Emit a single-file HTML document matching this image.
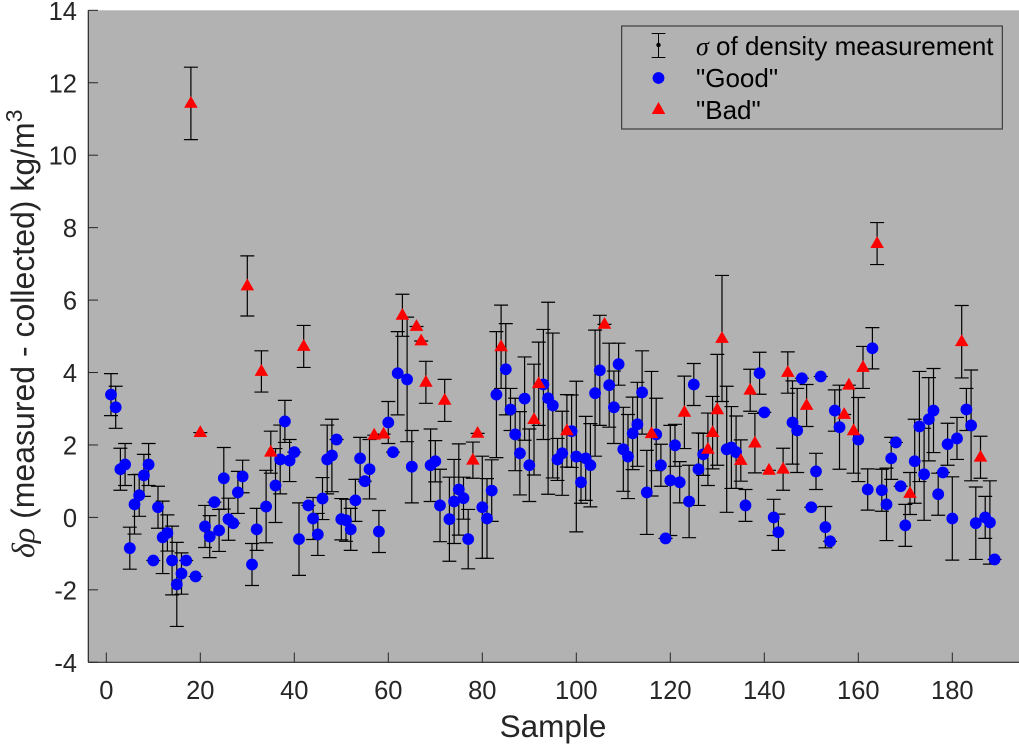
<!DOCTYPE html>
<html lang="en">
<head>
<meta charset="utf-8">
<title>Density difference by sample</title>
<style>
html,body{margin:0;padding:0;background:#fff;}
svg{display:block;font-family:"Liberation Sans",sans-serif;}
</style>
</head>
<body>
<svg id="chart" xmlns="http://www.w3.org/2000/svg" width="1019" height="746" viewBox="0 0 1019 746">
  <rect x="88.3" y="10.3" width="930.7" height="652" fill="#b2b2b2"/>
  <g id="errorbars"></g>
  <g id="good-points"></g>
  <g id="bad-points"></g>
  <g id="axes">
    <line x1="88.3" y1="10.3" x2="88.3" y2="662.3" stroke="#262626" stroke-width="1.2"/>
    <line x1="88.3" y1="662.3" x2="1019" y2="662.3" stroke="#262626" stroke-width="1.2"/>
  </g>
  <text x="553" y="737" text-anchor="middle" font-size="31.5" fill="#262626">Sample</text>
  <text transform="translate(34,558) rotate(-90)" font-size="32" fill="#262626"><tspan font-family="'Liberation Serif',serif" font-style="italic">δρ</tspan> (measured - collected) kg/m<tspan font-size="23" dy="-12">3</tspan></text>
  <g>
    <rect x="621.7" y="26" width="380.6" height="103" fill="#b2b2b2" stroke="#262626" stroke-width="1"/>
    <g>
      <line x1="658.5" y1="33.5" x2="658.5" y2="57.5" stroke="#000" stroke-width="1"/>
      <line x1="651.7" y1="33.5" x2="665.3" y2="33.5" stroke="#000" stroke-width="1"/>
      <line x1="651.7" y1="57.5" x2="665.3" y2="57.5" stroke="#000" stroke-width="1"/>
      <circle cx="658.5" cy="45" r="2.2" fill="#000"/>
      <text x="696" y="55" font-size="26" fill="#000"><tspan font-family="'Liberation Serif',serif" font-style="italic">σ</tspan> of density measurement</text>
    </g>
    <g>
      <circle cx="658.5" cy="78" r="5.9" fill="#0000ff"/>
      <text x="696" y="87" font-size="26" fill="#000">"Good"</text>
    </g>
    <g>
      <polygon points="658.5,102 651.7,114 665.3,114" fill="#ff0000"/>
      <text x="696" y="119" font-size="26" fill="#000">"Bad"</text>
    </g>
  </g>
</svg>
<script>
const xTickValues = [0, 20, 40, 60, 80, 100, 120, 140, 160, 180];
const yTickValues = [-4, -2, 0, 2, 4, 6, 8, 10, 12, 14];

// Density difference for samples 1..189, in order
const densityDelta = [
  3.39, 3.04, 1.33, 1.46, -0.85, 0.36, 0.61, 1.16, 1.46, -1.19,
  0.28, -0.55, -0.43, -1.19, -1.85, -1.55, -1.19, 11.43, -1.63, 2.34,
  -0.25, -0.53, 0.42, -0.36, 1.08, -0.05, -0.16, 0.69, 1.13, 6.39,
  -1.30, -0.33, 4.03, 0.30, 1.80, 0.88, 1.60, 2.65, 1.57, 1.80,
  -0.60, 4.72, 0.33, -0.03, -0.47, 0.52, 1.60, 1.71, 2.15, -0.05,
  -0.08, -0.33, 0.47, 1.63, 1.00, 1.33, 2.27, -0.39, 2.30, 2.62,
  1.80, 3.98, 5.58, 3.81, 1.40, 5.27, 4.87, 3.73, 1.44, 1.55,
  0.33, 3.23, -0.05, 0.44, 0.77, 0.53, -0.60, 1.58, 2.32, 0.28,
  -0.03, 0.74, 3.39, 4.71, 4.09, 2.98, 2.29, 1.77, 3.28, 1.44,
  2.70, 3.69, 3.67, 3.29, 3.09, 1.60, 1.77, 2.39, 2.38, 1.68,
  0.97, 1.63, 1.44, 3.43, 4.06, 5.33, 3.65, 3.04, 4.23, 1.88,
  1.68, 2.32, 2.57, 3.45, 0.69, 2.31, 2.29, 1.44, -0.58, 1.02,
  1.99, 0.97, 2.90, 0.44, 3.67, 1.33, 1.74, 1.88, 2.34, 2.97,
  4.94, 1.88, 1.93, 1.80, 1.57, 0.33, 3.51, 2.05, 3.98, 2.90,
  1.30, 0.00, -0.41, 1.33, 4.00, 2.62, 2.40, 3.84, 3.09, 0.28,
  1.27, 3.89, -0.27, -0.66, 2.95, 2.49, 2.84, 3.65, 2.39, 2.15,
  4.14, 0.77, 4.67, 7.56, 0.75, 0.36, 1.63, 2.07, 0.86, -0.22,
  0.66, 1.55, 2.51, 1.19, 2.71, 2.95, 0.64, 1.24, 2.02, -0.03,
  2.18, 4.85, 2.98, 2.54, -0.16, 1.66, 0.00, -0.14, -1.16
];

// Half-height of the error bar for samples 1..189, in order
const densitySigma = [
  0.58, 0.58, 0.58, 0.58, 0.58, 0.82, 0.58, 0.58, 0.58, 0,
  0.58, 1.00, 0.50, 0.95, 1.16, 0.57, 0, 1.00, 0, 0,
  0.58, 0.58, 0, 0.58, 0.85, 0.58, 0, 0.58, 0.45, 0.83,
  0.58, 0.58, 0.57, 1.00, 0.58, 1.02, 0.95, 0.58, 0.58, 0,
  1.00, 0.58, 0, 0.58, 0.58, 0.58, 0.95, 1.00, 0, 0.57,
  0.58, 0.58, 0.58, 0.58, 0, 0.82, 0, 0.58, 0, 0.58,
  0, 1.15, 0.58, 1.72, 1.00, 0, 0, 0.58, 1.00, 0.57,
  1.00, 0.58, 1.16, 1.16, 1.26, 0.58, 0.82, 0.50, 0, 1.41,
  1.10, 0.85, 1.74, 1.15, 1.26, 0.58, 1.00, 1.15, 1.15, 1.00,
  1.53, 1.15, 1.52, 2.65, 2.00, 0.58, 1.16, 1.00, 1.00, 2.08,
  0.58, 1.16, 1.15, 1.74, 1.52, 0, 1.16, 1.00, 0.58, 1.16,
  1.16, 1.00, 1.16, 1.15, 1.16, 1.72, 1.00, 0.58, 0, 1.52,
  0.58, 0.57, 1.00, 1.00, 0.58, 1.00, 0.58, 1.00, 1.00, 1.53,
  1.74, 1.74, 1.13, 1.00, 0.57, 0.44, 0.58, 0.82, 0.58, 0,
  0, 0.50, 0.50, 0.58, 0.57, 1.15, 1.16, 0, 0.58, 0,
  0.50, 0, 0.57, 0, 0.57, 1.16, 0, 0, 1.17, 1.16,
  0.58, 0.57, 0.57, 0.58, 0.58, 1.00, 0.58, 0, 0, 0.58,
  0.58, 1.16, 1.52, 1.27, 1.15, 1.16, 0.58, 0, 0.58, 1.15,
  0.58, 1.00, 0.58, 1.53, 1.00, 0.58, 0.58, 1.15, 0
];

// Sample numbers classified "Bad"; every other sample is "Good"
const badSamples = [
  18, 20, 30, 33, 35, 42, 57, 59, 63, 66, 67, 68, 72, 78, 79, 84, 91, 92, 98,
  106, 116, 123, 128, 129, 130, 131, 135, 137, 138, 141, 144, 145, 149, 157,
  158, 159, 161, 164, 171, 182, 186
];

const xScale = v => 106.3 + 4.7 * v;
const yScale = v => 517.4 - 36.22 * v;
const NS = 'http://www.w3.org/2000/svg';

function shape(tag, parent, geometry) {
  const el = document.createElementNS(NS, tag);
  for (const k in geometry) el.setAttribute(k, geometry[k]);
  parent.appendChild(el);
  return el;
}

const axes = document.getElementById('axes');
xTickValues.forEach(v => {
  const tick = shape('line', axes, {x1: xScale(v), x2: xScale(v), y1: 662.3, y2: 652.5, stroke: '#262626', 'stroke-width': 1});
  
  
  const label = shape('text', axes, {x: xScale(v), y: 699, 'text-anchor': 'middle', 'font-size': 25.5, fill: '#262626'});
  label.textContent = String(v);
  
  
});
yTickValues.forEach(v => {
  const tick = shape('line', axes, {x1: 88.3, x2: 98, y1: yScale(v), y2: yScale(v), stroke: '#262626', 'stroke-width': 1});
  
  
  const label = shape('text', axes, {x: 77, y: yScale(v) + 9.5, 'text-anchor': 'end', 'font-size': 25.5, fill: '#262626'});
  label.textContent = String(v);
  
  
});

const errorLayer = document.getElementById('errorbars');
const goodLayer = document.getElementById('good-points');
const badLayer = document.getElementById('bad-points');
const capHalfWidth = 7;

densityDelta.forEach((value, i) => {
  const sample = i + 1;
  const cx = xScale(sample);
  const cy = yScale(value);
  const top = yScale(value + densitySigma[i]);
  const bottom = yScale(value - densitySigma[i]);
  const bar = shape('path', errorLayer, {
    d: `M${cx} ${top}V${bottom}M${cx - capHalfWidth} ${top}H${cx + capHalfWidth}M${cx - capHalfWidth} ${bottom}H${cx + capHalfWidth}`,
    fill: 'none', stroke: '#000', 'stroke-width': 1.2
  });
  
  
  if (badSamples.includes(sample)) {
    const tri = shape('polygon', badLayer, {
      points: `${cx},${cy - 7.4} ${cx - 6.8},${cy + 4.4} ${cx + 6.8},${cy + 4.4}`,
      fill: '#ff0000'
    });
    
    
  } else {
    const dot = shape('circle', goodLayer, {cx: cx, cy: cy, r: 5.9, fill: '#0000ff'});
    
    
  }
});
</script>
</body>
</html>
